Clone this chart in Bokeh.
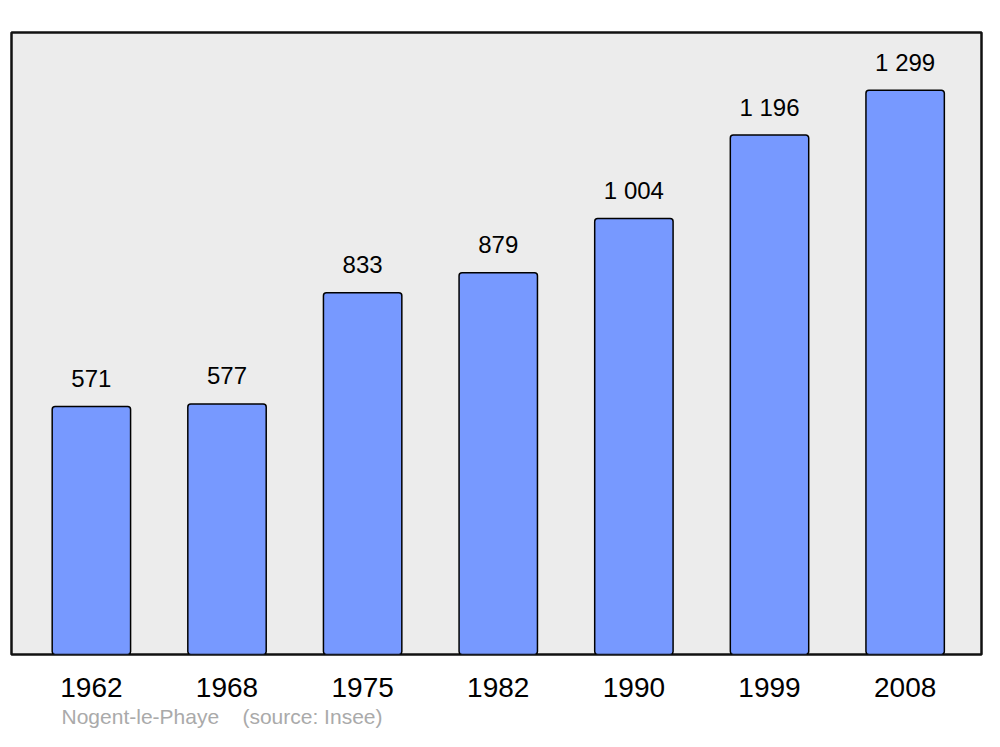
from bokeh.plotting import figure
from bokeh.models import Range1d, FixedTicker, Title, ColumnDataSource
from bokeh.core.properties import value
from bokeh.embed import file_html
from bokeh.resources import INLINE

years = ["1962", "1968", "1975", "1982", "1990", "1999", "2008"]
population = [571, 577, 833, 879, 1004, 1196, 1299]
place = "Nogent-le-Phaye"
source_note = "(source: Insee)"

def fmt(v):
    return f"{v:,}".replace(",", "\u00a0")

idx = list(range(len(years)))
src = ColumnDataSource(dict(x=idx, top=population, label=[fmt(v) for v in population]))

p = figure(width=984, height=731, output_backend="svg", toolbar_location=None,
           x_range=Range1d(-0.589, 6.563), y_range=Range1d(0, 1432),
           min_border_left=11, min_border_right=3, min_border_top=32, min_border_bottom=0)
p.background_fill_color = "#ececec"
p.border_fill_color = "white"
p.outline_line_color = "#111111"
p.outline_line_width = 2.5
p.grid.visible = False
p.yaxis.visible = False

p.vbar(x="x", top="top", bottom=0, width=0.578, source=src,
       fill_color="#7799ff", line_color="black", line_width=1.5, border_radius=3)
p.text(x="x", y="top", text="label", source=src, y_offset=-28,
       text_align="center", text_baseline="middle", text_font_size="24px",
       text_color="black", text_font=value("Liberation Sans"))

ax = p.xaxis[0]
ax.ticker = FixedTicker(ticks=idx)
ax.major_label_overrides = {i: y for i, y in enumerate(years)}
ax.major_label_text_font_size = "28px"
ax.major_label_text_font = "Liberation Sans"
ax.major_label_text_color = "black"
ax.axis_line_color = None
ax.major_tick_line_color = None
ax.minor_tick_line_color = None
ax.major_tick_out = 0
ax.major_label_standoff = 23

note = Title(text=place + "\u00a0" * 4 + source_note, align="left", offset=50,
             text_font_size="21px", text_color="#aaaaaa", text_font="Liberation Sans",
             text_font_style="normal", standoff=7)
p.add_layout(note, "below")

open("out.html", "w").write(file_html(p, INLINE))
